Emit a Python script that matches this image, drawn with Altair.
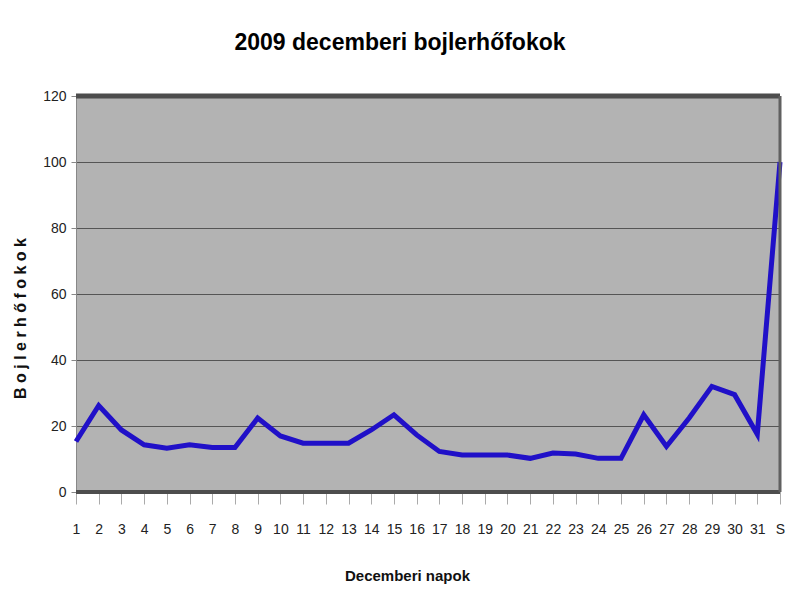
import altair as alt
import pandas as pd

days = [str(i) for i in range(1, 32)] + ["S"]
temps = [15.3, 26.2, 18.8, 14.3, 13.3, 14.3, 13.5, 13.5, 22.4, 17.0,
         14.8, 14.8, 14.8, 18.8, 23.4, 17.3, 12.3, 11.2, 11.2, 11.2,
         10.2, 11.8, 11.5, 10.2, 10.2, 23.4, 13.8, 22.4, 32.0, 29.5,
         17.5, 100.0]
y_ticks = [0, 20, 40, 60, 80, 100, 120]

df = pd.DataFrame({"nap": days, "fok": temps})

FONT = "Liberation Sans Narrow, Liberation Sans, Arial, sans-serif"

x = alt.X("nap:N", sort=days,
          scale=alt.Scale(type="point", padding=0),
          axis=alt.Axis(title="Decemberi napok", labelAngle=0,
                        labelFont=FONT, labelFontSize=14, labelColor="#222",
                        labelPadding=18, tickSize=12, tickColor="#aaa",
                        domain=False, grid=False,
                        titleFont=FONT, titleFontSize=15, titleFontWeight="bold",
                        titleColor="#111", titlePadding=32, titleX=331))
y = alt.Y("fok:Q",
          scale=alt.Scale(domain=[0, 120], nice=False),
          axis=alt.Axis(title="B o j l e r h ő f o k o k", values=y_ticks,
                        labelFont=FONT, labelFontSize=14, labelColor="#222",
                        labelPadding=5, tickSize=5, tickColor="#888",
                        domainColor="#888", domainWidth=1,
                        grid=True, gridColor="#555", gridWidth=1,
                        titleFont=FONT, titleFontSize=16, titleFontWeight="bold",
                        titleColor="#111", titleX=-56, titleY=222,
                        titleAlign="center", titleBaseline="middle"))

line = alt.Chart(df).mark_line(color="#2010c8", strokeWidth=5).encode(x=x, y=y)

borders = pd.DataFrame({"v": [120, 0], "w": [5, 4]})
hrules = alt.Chart(borders).mark_rule(color="#4d4d4d").encode(
    y=alt.Y("v:Q"), strokeWidth=alt.StrokeWidth("w:Q", scale=None, legend=None))
vrule = alt.Chart(pd.DataFrame({"nap": ["S"]})).mark_rule(
    color="#606060", strokeWidth=3).encode(x=alt.X("nap:N", sort=days))

chart = alt.layer(line, hrules, vrule).properties(
    width=704, height=396,
    autosize=alt.AutoSizeParams(type="none"),
    padding={"left": 68, "top": 88, "right": 12, "bottom": 95},
    background="white",
    title=alt.TitleParams("2009 decemberi bojlerhőfokok", font=FONT,
                          fontSize=23, fontWeight="bold", color="#000",
                          anchor="middle", frame="group", dx=-28, offset=34),
).configure_view(fill="#b3b3b3", stroke=None)

chart.save("out.html", embed_options={"renderer": "svg", "actions": False})
